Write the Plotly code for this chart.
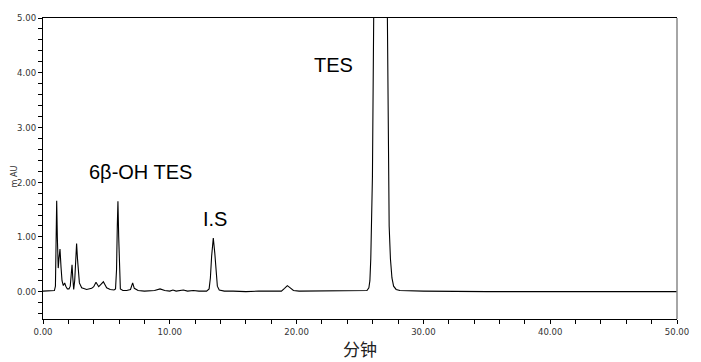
import plotly.graph_objects as go

# Chromatogram trace (minutes, mAU)
times = [0, 0.5, 0.9, 0.98, 1.03, 1.08, 1.13, 1.2, 1.26, 1.34, 1.42, 1.5, 1.6, 1.71, 1.8,
         1.92, 2.05, 2.15, 2.22, 2.29, 2.35, 2.42, 2.5, 2.58, 2.65, 2.72, 2.8, 2.87, 3.05,
         3.44, 3.84, 4.0, 4.18, 4.3, 4.39, 4.55, 4.76, 4.9, 5.02, 5.3, 5.6, 5.72, 5.8, 5.86,
         5.91, 5.97, 6.03, 6.1, 6.3, 6.6, 6.9, 7.07, 7.2, 7.5, 8.0, 8.8, 9.23, 9.6, 10.0,
         10.25, 10.5, 11.07, 11.4, 11.85, 12.3, 12.9, 13.1, 13.2, 13.3, 13.43, 13.55, 13.65,
         13.75, 13.9, 14.3, 15, 16, 17, 18, 18.8, 19.05, 19.27, 19.5, 19.75, 20.2, 21, 21.9,
         22.5, 23.5, 24.5, 25.3, 25.55, 25.7, 25.78, 25.85, 25.92, 25.98, 26.08, 26.3, 26.6,
         26.9, 27.16, 27.24, 27.3, 27.4, 27.52, 27.65, 27.85, 28.15, 29, 30, 35, 40, 45, 50]
absorbance = [0.01, 0.01, 0.02, 0.1, 0.9, 1.66, 1.0, 0.43, 0.6, 0.78, 0.45, 0.2, 0.11, 0.16,
              0.1, 0.05, 0.05, 0.1, 0.3, 0.49, 0.25, 0.04, 0.2, 0.6, 0.88, 0.6, 0.3, 0.16,
              0.07, 0.04, 0.06, 0.09, 0.17, 0.11, 0.09, 0.13, 0.18, 0.12, 0.07, 0.04, 0.03,
              0.05, 0.4, 1.2, 1.65, 1.0, 0.25, 0.05, 0.02, 0.02, 0.04, 0.16, 0.06, 0.02, 0.01,
              0.02, 0.05, 0.02, 0.01, 0.03, 0.01, 0.03, 0.01, 0.02, 0.01, 0.01, 0.05, 0.25,
              0.65, 0.98, 0.7, 0.3, 0.1, 0.03, 0.01, 0.01, 0.0, 0.01, 0.01, 0.01, 0.06, 0.11,
              0.07, 0.02, 0.01, 0.01, 0.02, 0.01, 0.01, 0.01, 0.01, 0.02, 0.07, 0.2, 0.6, 1.3,
              2.1, 5.0, 12, 16, 12, 5.0, 2.1, 1.2, 0.6, 0.25, 0.1, 0.04, 0.02, 0.01, 0.01,
              0.0, 0.0, 0.0, 0.0]

x_ticks = [0, 10, 20, 30, 40, 50]
x_tick_labels = ["0.00", "10.00", "20.00", "30.00", "40.00", "50.00"]
y_ticks = [0, 1, 2, 3, 4, 5]
y_tick_labels = ["0.00", "1.00", "2.00", "3.00", "4.00", "5.00"]

peak_labels = ["TES", "6β-OH TES", "I.S"]
peak_label_x = [22.93, 7.65, 13.56]
peak_label_y = [4.14, 2.19, 1.33]

fig = go.Figure()
fig.add_trace(go.Scatter(x=times, y=absorbance, mode="lines",
                         line=dict(color="black", width=1.1), hoverinfo="skip",
                         showlegend=False))

tickfont = dict(family="DejaVu Sans Condensed, sans-serif", size=9.5, color="#333333")

fig.update_layout(
    width=693, height=354,
    margin=dict(l=35, r=24, t=10, b=43),
    paper_bgcolor="white", plot_bgcolor="white",
    xaxis=dict(range=[0, 50], tickvals=x_ticks, ticktext=x_tick_labels,
               ticks="outside", ticklen=4, tickcolor="black", tickwidth=1,
               minor=dict(dtick=2, ticks="outside", ticklen=4, tickcolor="black"),
               showline=True, linecolor="black", linewidth=1, mirror=True,
               showgrid=False, zeroline=False, tickfont=tickfont, automargin=False),
    yaxis=dict(range=[-0.5, 5.0], tickvals=y_ticks, ticktext=y_tick_labels,
               ticks="outside", ticklen=4, tickcolor="black", tickwidth=1,
               minor=dict(dtick=0.2, ticks="outside", ticklen=4, tickcolor="black"),
               showline=True, linecolor="black", linewidth=1,
               showgrid=False, zeroline=False, tickfont=tickfont, automargin=False),
)

fig.add_shape(type="line", xref="paper", yref="paper", x0=1, x1=1, y0=0, y1=1,
              line=dict(color="#888888", width=1.5))

fig.add_annotation(text="m AU", xref="paper", yref="paper", x=-0.045, y=0.475,
                   textangle=-90, showarrow=False, xanchor="center", yanchor="middle",
                   font=dict(family="DejaVu Sans Condensed, sans-serif", size=9,
                             color="#333333"))

fig.add_annotation(text="分钟", xref="paper", yref="paper", x=0.5, y=-0.098,
                   showarrow=False, xanchor="center", yanchor="middle",
                   font=dict(family="Noto Sans CJK SC", size=17, color="#222222"))

for txt, lx, ly in zip(peak_labels, peak_label_x, peak_label_y):
    fig.add_annotation(text=txt, x=lx, y=ly, xref="x", yref="y", showarrow=False,
                       xanchor="center", yanchor="middle",
                       font=dict(family="Liberation Sans, Arial, sans-serif", size=20,
                                 color="black"))

fig.write_html("out.html")
